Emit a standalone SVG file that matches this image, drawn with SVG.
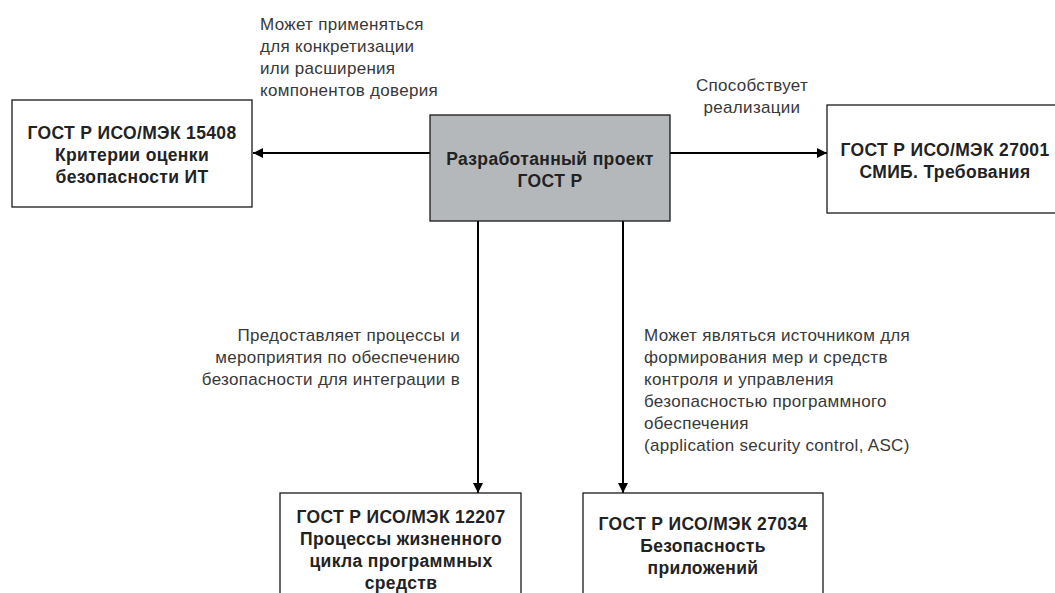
<svg xmlns="http://www.w3.org/2000/svg" width="1055" height="593" viewBox="0 0 1055 593">
<style>
.box{fill:#ffffff;stroke:#1a1a1a;stroke-width:1.3}
.main{fill:#b5b8bb;stroke:#1a1a1a;stroke-width:1.3}
.nt{font-family:"Liberation Sans",Arial,sans-serif;font-size:17.5px;font-weight:bold;fill:#222;text-anchor:middle;letter-spacing:0.35px}
.lb{font-family:"Liberation Sans",Arial,sans-serif;font-size:17px;fill:#383838;letter-spacing:0.3px}
.edge{stroke:#000;stroke-width:2;fill:none;marker-end:url(#arr)}
</style>
<defs>
<marker id="arr" viewBox="0 0 10 10" refX="10" refY="5" markerWidth="10" markerHeight="10" markerUnits="userSpaceOnUse" orient="auto">
<path d="M0,0 L10,5 L0,10 z" fill="#000"/>
</marker>
</defs>
<rect width="1055" height="593" fill="#fff"/>
<g id="connectors">
<line class="edge" x1="430" y1="153" x2="253" y2="153"/>
<line class="edge" x1="670" y1="153" x2="827" y2="153"/>
<line class="edge" x1="478" y1="221" x2="478" y2="493"/>
<line class="edge" x1="623" y1="221" x2="623" y2="493"/>
</g>
<g id="labels">
<text class="lb" x="260" y="30">Может применяться</text>
<text class="lb" x="260" y="52">для конкретизации</text>
<text class="lb" x="260" y="74">или расширения</text>
<text class="lb" x="260" y="96">компонентов доверия</text>
<text class="lb" x="752" y="91" text-anchor="middle">Способствует</text>
<text class="lb" x="752" y="113" text-anchor="middle">реализации</text>
<text class="lb" x="460" y="341" text-anchor="end">Предоставляет процессы и</text>
<text class="lb" x="460" y="363" text-anchor="end">мероприятия по обеспечению</text>
<text class="lb" x="460" y="385" text-anchor="end">безопасности для интеграции в</text>
<text class="lb" x="644" y="341">Может являться источником для</text>
<text class="lb" x="644" y="363">формирования мер и средств</text>
<text class="lb" x="644" y="385">контроля и управления</text>
<text class="lb" x="644" y="407">безопасностью программного</text>
<text class="lb" x="644" y="429">обеспечения</text>
<text class="lb" x="644" y="451">(application security control, ASC)</text>
</g>
<g id="node-15408">
<rect class="box" x="12" y="100" width="240" height="107"/>
<text class="nt" x="132" y="139">ГОСТ Р ИСО/МЭК 15408</text>
<text class="nt" x="132" y="161">Критерии оценки</text>
<text class="nt" x="132" y="183">безопасности ИТ</text>
</g>
<g id="node-main">
<rect class="main" x="430" y="115" width="240" height="106"/>
<text class="nt" x="550" y="165">Разработанный проект</text>
<text class="nt" x="550" y="187">ГОСТ Р</text>
</g>
<g id="node-27001">
<rect class="box" x="827" y="105" width="240" height="108"/>
<text class="nt" x="945" y="156">ГОСТ Р ИСО/МЭК 27001</text>
<text class="nt" x="945" y="178">СМИБ. Требования</text>
</g>
<g id="node-12207">
<rect class="box" x="280" y="493" width="241" height="120"/>
<text class="nt" x="401" y="523">ГОСТ Р ИСО/МЭК 12207</text>
<text class="nt" x="401" y="545">Процессы жизненного</text>
<text class="nt" x="401" y="567">цикла программных</text>
<text class="nt" x="401" y="589">средств</text>
</g>
<g id="node-27034">
<rect class="box" x="583" y="493" width="240" height="120"/>
<text class="nt" x="703" y="530">ГОСТ Р ИСО/МЭК 27034</text>
<text class="nt" x="703" y="552">Безопасность</text>
<text class="nt" x="703" y="574">приложений</text>
</g>
</svg>
